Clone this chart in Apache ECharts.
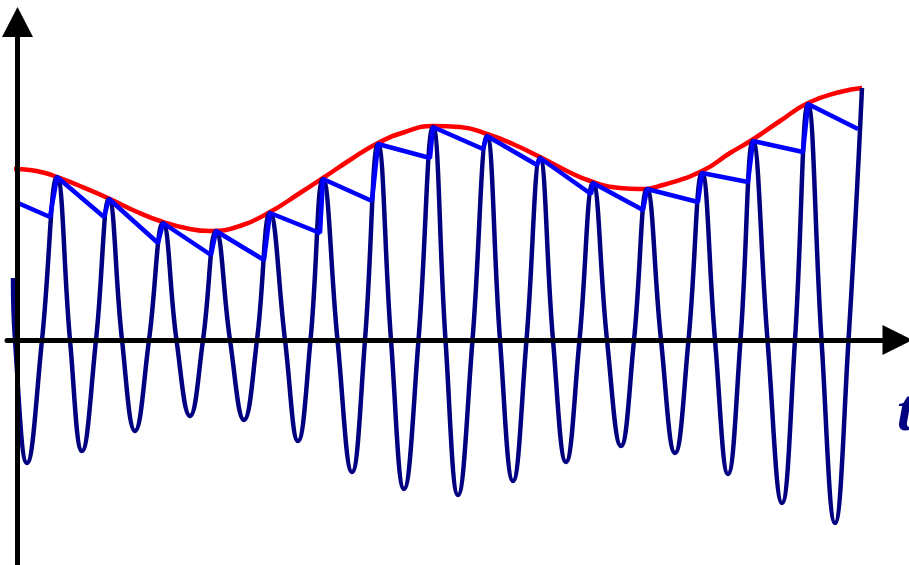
<!DOCTYPE html>
<html><head><meta charset="utf-8">
<script src="https://cdn.jsdelivr.net/npm/echarts/dist/echarts.min.js"></script>
<style>html,body{margin:0;padding:0;background:#fff}#c{width:909px;height:565px}</style>
</head><body><div id="c"></div>
<script>
// Carrier signal: peaks, zero crossings and troughs (time, amplitude)
const signalT = [-4.5,-2.5,9.5,24.5,39.5,52.5,64.5,78.5,91.5,104.5,117.5,131.5,145.5,159,172.5,185.5,198.5,212.5,226.5,239.5,252.5,267.5,280.5,293,305.5,320,334.5,347.5,360.5,373.5,386.5,401,415.5,428,440.5,455,469.5,482.5,495.5,509,522.5,535.5,548.5,562,575.5,589.5,603.5,616.5,629.5,643.5,657.5,671,684.5,697.5,710.5,723,735.5,750,764.5,777.5,790.5,804,817.5,831,844.5];
const signalV = [62,0,-123,0,163,0,-111,0,141,0,-91,0,117,0,-76,0,109,0,-80,0,127,0,-101,0,161,0,-132,0,196,0,-149,0,213,0,-155,0,204,0,-141,0,182,0,-122,0,157,0,-106,0,151,0,-113,0,167,0,-134,0,199,0,-163,0,236,0,-183,0,252];
// Envelope detector output (sawtooth)
const detT = [0.5,32.5,39.5,86.5,91.5,140.5,145.5,193.5,198.5,246.5,252.5,302.5,305.5,354.5,360.5,412.5,415.5,465.5,469.5,519.5,522.5,573.5,575.5,625.5,629.5,680.5,684.5,730.5,735.5,785.5,790.5,840.5];
const detV = [137,123,163,123,141,97,117,85,109,80,127,107,161,139,196,182,213,191,204,175,182,146,157,130,151,138,167,158,199,188,236,211];
// Envelope (message) curve
const envT = [-3.5,12.5,27.5,39.5,62.5,92.5,117.5,145.5,172.5,192.5,222.5,252.5,282.5,305.5,332.5,360.5,387.5,415.5,442.5,469.5,497.5,522.5,547.5,575.5,602.5,622.5,645.5,684.5,712.5,734.5,762.5,790.5,822.5,844.5];
const envV = [171,170,167,163,154,141,129,118,111,109,114,128,147,162,180,197,208,214,213,206,195,183,170,158,152,151,155,169,187,200,219,237,248,252];
const axisLabelText = 't';

const zip = (a, b) => a.map((v, i) => [v, b[i]]);
const chart = echarts.init(document.getElementById('c'));
const axisCommon = {
  type: 'value',
  axisTick: {show: false},
  axisLabel: {show: false},
  splitLine: {show: false},
  z: 10
};
chart.setOption({
  animation: false,
  backgroundColor: '#fff',
  grid: {left: 7, right: 11.5, top: 22, bottom: 0},
  xAxis: Object.assign({}, axisCommon, {
    min: -10.5, max: 880,
    axisLine: {onZero: true, symbol: ['none', 'triangle'], symbolSize: [30, 30], lineStyle: {color: '#000', width: 5}}
  }),
  yAxis: Object.assign({}, axisCommon, {
    min: -225, max: 318,
    axisLine: {onZero: true, symbol: ['none', 'triangle'], symbolSize: [31, 30], lineStyle: {color: '#000', width: 5}}
  }),
  series: [
    {type: 'line', data: zip(envT, envV), smooth: true, symbol: 'none', z: 2,
     lineStyle: {color: '#ff0000', width: 4.5}},
    {type: 'line', data: zip(signalT, signalV), smooth: 0.45, symbol: 'none', z: 3,
     lineStyle: {color: '#000080', width: 4.5}},
    {type: 'line', data: zip(detT, detV), symbol: 'none', z: 4,
     lineStyle: {color: '#0000ff', width: 4.5}}
  ],
  graphic: [{
    type: 'text', x: 897, y: 414, z: 20,
    style: {text: axisLabelText, font: 'italic bold 60px "Liberation Serif"', fill: '#000080', verticalAlign: 'middle'}
  }]
});
</script>
</body></html>
